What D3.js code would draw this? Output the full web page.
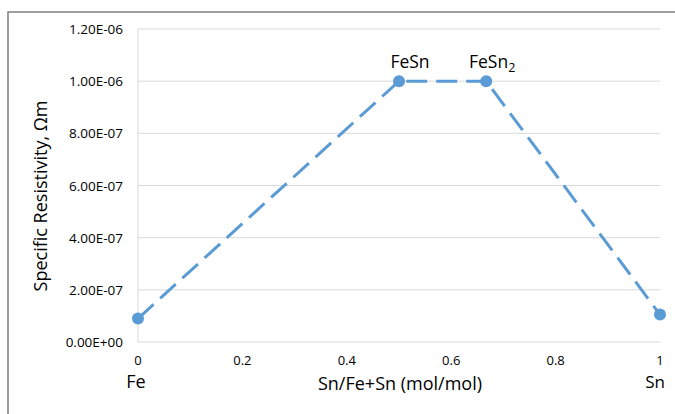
<!DOCTYPE html>
<html>
<head>
<meta charset="utf-8">
<script src="https://cdn.jsdelivr.net/npm/d3@7"></script>
<style>
  body { margin: 0; background: #fff; }
  svg { display: block; font-family: "Open Sans", "Noto Sans", sans-serif; }
</style>
</head>
<body>
<svg id="chart" width="675" height="414"></svg>
<script>
// Data
const xValues = [0, 0.5, 0.667, 1];
const resistivity = [9.0e-8, 1.0e-6, 1.0e-6, 1.05e-7];
const yTicks = [0, 2e-7, 4e-7, 6e-7, 8e-7, 1e-6, 1.2e-6];
const xTicks = [0, 0.2, 0.4, 0.6, 0.8, 1];

const svg = d3.select('#chart');
const W = 675, H = 414;
const plot = { left: 138, right: 660, top: 29, bottom: 342 };

const x = d3.scaleLinear().domain([0, 1]).range([plot.left, plot.right]);
const y = d3.scaleLinear().domain([0, 1.2e-6]).range([plot.bottom, plot.top]);

// outer chart border (cut off at right/bottom)
svg.append('path')
  .attr('d', `M8,${H + 2} V12 H${W + 2}`)
  .attr('fill', 'none').attr('stroke', '#7f7f7f').attr('stroke-width', 1.5);

// gridlines
svg.append('g').selectAll('line').data(yTicks).enter().append('line')
  .attr('x1', plot.left).attr('x2', plot.right)
  .attr('y1', d => y(d)).attr('y2', d => y(d))
  .attr('stroke', '#d9d9d9').attr('stroke-width', 1);

// left axis line
svg.append('line')
  .attr('x1', plot.left).attr('x2', plot.left)
  .attr('y1', plot.top).attr('y2', plot.bottom)
  .attr('stroke', '#d9d9d9');

// y tick labels
const fmt = v => {
  const s = v.toExponential(2).toUpperCase();
  const m = s.match(/^([\d.]+)E([+-])(\d+)$/);
  return m[1] + 'E' + m[2] + m[3].padStart(2, '0');
};
svg.append('g').selectAll('text').data(yTicks).enter().append('text')
  .attr('x', 123).attr('y', d => y(d) + 5)
  .attr('text-anchor', 'end').attr('font-size', 13.5).attr('fill', '#000')
  .text(fmt);

// x tick labels
svg.append('g').selectAll('text').data(xTicks).enter().append('text')
  .attr('x', d => x(d)).attr('y', 365)
  .attr('text-anchor', 'middle').attr('font-size', 13).attr('fill', '#000')
  .text(d => d3.format('')(d));

// axis titles
svg.append('text')
  .attr('x', 400).attr('y', 390)
  .attr('text-anchor', 'middle').attr('font-size', 18)
  .text('Sn/Fe+Sn (mol/mol)');

svg.append('text')
  .attr('transform', `translate(47,196) rotate(-90)`)
  .attr('text-anchor', 'middle').attr('font-size', 18)
  .text('Specific Resistivity, Ωm');

// series
const pts = xValues.map((v, i) => [v, resistivity[i]]);
svg.append('path')
  .datum(pts)
  .attr('d', d3.line().x(d => x(d[0])).y(d => y(d[1])))
  .attr('fill', 'none').attr('stroke', '#5b9bd5').attr('stroke-width', 3)
  .attr('stroke-dasharray', '21,9');

svg.append('g').selectAll('circle').data(pts).enter().append('circle')
  .attr('cx', d => x(d[0])).attr('cy', d => y(d[1])).attr('r', 6)
  .attr('fill', '#5b9bd5');

// phase labels
svg.append('text')
  .attr('x', 410).attr('y', 68)
  .attr('text-anchor', 'middle').attr('font-size', 17.5)
  .text('FeSn');

const fesn2 = svg.append('text')
  .attr('x', 469).attr('y', 68).attr('font-size', 17.5);
fesn2.append('tspan').text('FeSn');
fesn2.append('tspan').attr('font-size', 12.5).attr('dy', 4).text('2');

svg.append('text')
  .attr('x', 136).attr('y', 388)
  .attr('text-anchor', 'middle').attr('font-size', 18)
  .text('Fe');

svg.append('text')
  .attr('x', 655).attr('y', 388)
  .attr('text-anchor', 'middle').attr('font-size', 17)
  .text('Sn');
</script>
</body>
</html>
